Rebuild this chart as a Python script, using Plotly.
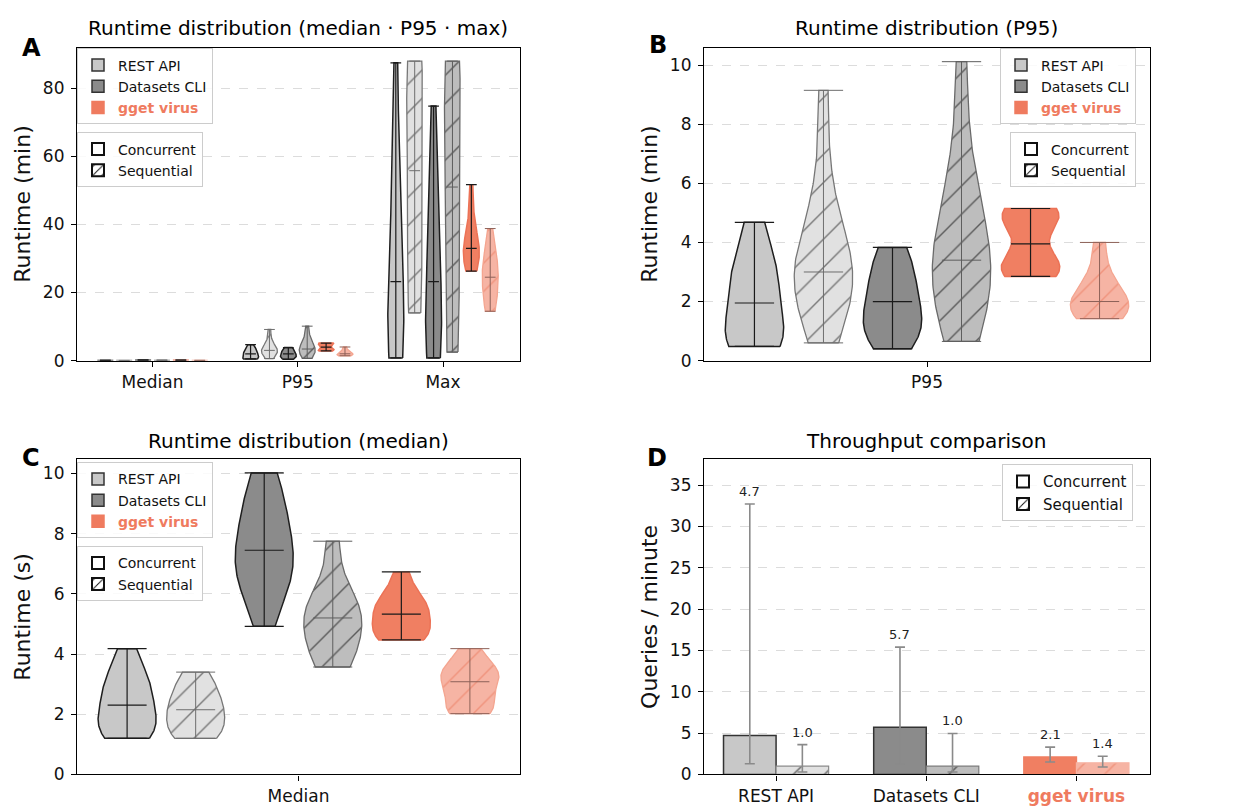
import numpy as np
import plotly.graph_objects as go

# ---------------- data ----------------
group_names = ["REST API", "Datasets CLI", "gget virus"]
mode_names = ["Concurrent", "Sequential"]
metric_labels = ["Median", "P95", "Max"]

# per-query median runtime (seconds)
med_rest_conc = [1.2, 1.35, 1.5, 1.7, 1.9, 2.3, 2.6, 2.9, 3.1, 3.5, 4.18]
med_rest_seq = [1.2, 1.3, 1.45, 1.7, 1.9, 2.15, 2.3, 2.5, 2.8, 3.1, 3.4]
med_cli_conc = [4.92, 6.0, 6.4, 6.7, 7.0, 7.45, 7.8, 8.3, 8.8, 9.4, 10.02]
med_cli_seq = [3.57, 3.9, 4.3, 4.8, 5.2, 5.4, 5.6, 6.1, 7.75]
med_gget_conc = [4.47, 4.55, 4.65, 4.8, 5.0, 5.33, 5.5, 5.6, 5.75, 6.1, 6.73]
med_gget_seq = [2.02, 2.15, 2.25, 2.35, 2.9, 3.08, 3.25, 3.35, 3.45, 3.7, 4.18]

# per-query P95 runtime (minutes)
p95_rest_conc = [0.48, 0.55, 0.7, 0.9, 1.2, 1.95, 2.5, 2.8, 3.1, 3.8, 4.68]
p95_rest_seq = [0.6, 1.5, 2.1, 2.5, 2.8, 3.0, 3.3, 3.8, 4.5, 6.2, 9.15]
p95_cli_conc = [0.4, 0.8, 1.0, 1.2, 1.4, 2.0, 2.2, 2.5, 3.0, 3.5, 3.83]
p95_cli_seq = [0.65, 1.4, 2.0, 2.6, 3.0, 3.4, 3.9, 4.6, 5.5, 7.0, 10.12]
p95_gget_conc = [2.85, 2.95, 3.05, 3.15, 3.2, 3.3, 3.45, 4.45, 4.7, 4.85, 4.95, 5.05, 5.1, 5.15]
p95_gget_seq = [1.42, 1.55, 1.7, 1.8, 2.0, 2.2, 2.5, 3.0, 4.0]

# per-query max runtime (minutes)
max_rest_conc = [0.8, 2, 4, 7, 12, 23.2, 28, 35, 48, 65, 87.5]
max_rest_seq = [14, 15, 20, 32, 45, 55.8, 64, 78, 86, 88, 88]
max_cli_conc = [0.8, 2, 5, 8, 12, 23.2, 28, 35, 45, 60, 74.8]
max_cli_seq = [2.5, 5, 12, 28, 42, 51, 62, 76, 86, 88, 88]
max_gget_conc = [26.3, 27.5, 29, 30.5, 31.5, 33, 34.5, 36, 38, 44, 51.7]
max_gget_seq = [14.5, 16, 18, 21, 23, 24.5, 27, 28.5, 30, 33, 38.8]

# throughput (queries / minute)
thr_conc = [4.7, 5.7, 2.1]
thr_seq = [1.0, 1.0, 1.4]
thr_conc_lo = [1.3, 1.25, 1.5]
thr_conc_hi = [32.7, 15.4, 3.3]
thr_seq_lo = [0.3, 0.3, 0.9]
thr_seq_hi = [3.6, 4.95, 2.2]

# ---------------- styles ----------------
FONT = "DejaVu Sans"
ORANGE = "#ef7b5f"
fills = ["#c8c8c8", "#e1e1e1", "#8b8b8b", "#bdbdbd", "#f07f62", "#f6b4a4"]
edges = ["#1e1e1e", "#777777", "#1e1e1e", "#6a6a6a", "#ec7256", "#f4a590"]
statc = ["#1a1a1a", "#6e6e6e", "#1a1a1a", "#5e5e5e", "#1a1a1a", "#8d6158"]
hatchc = [None, "#777777", None, "#5a5a5a", None, "#f0937c"]

W = 1236
H = 811


def px_x(p):
    return p / W


def px_y(p):
    return 1 - p / H


med_sets = [med_rest_conc, med_rest_seq, med_cli_conc, med_cli_seq, med_gget_conc, med_gget_seq]
p95_sets = [p95_rest_conc, p95_rest_seq, p95_cli_conc, p95_cli_seq, p95_gget_conc, p95_gget_seq]
max_sets = [max_rest_conc, max_rest_seq, max_cli_conc, max_cli_seq, max_gget_conc, max_gget_seq]

offsets = (np.arange(6) - 2.5) * 0.13
VW = 0.11
CAP = 0.037

fig = go.Figure()


def add_violin(data, pos, k, xa, ya):
    d = np.asarray(data, float)
    n = len(d)
    s = d.std(ddof=1) * n ** (-0.2)
    ys = np.linspace(d.min(), d.max(), 100)
    dens = np.exp(-0.5 * ((ys[:, None] - d[None, :]) / s) ** 2).sum(1)
    half = 0.5 * VW * dens / dens.max()
    x = np.concatenate([pos + half, (pos - half)[::-1], [pos + half[0]]])
    y = np.concatenate([ys, ys[::-1], [ys[0]]])
    kw = dict(x=x, y=y, mode="lines", fill="toself", fillcolor=fills[k],
              line=dict(color=edges[k], width=1.5 if k % 2 == 0 else 1.3),
              xaxis=xa, yaxis=ya, showlegend=False, hoverinfo="skip")
    if hatchc[k]:
        kw["fillpattern"] = dict(shape="/", bgcolor=fills[k], fgcolor=hatchc[k],
                                 size=20, solidity=0.07, fillmode="replace")
    fig.add_trace(go.Scatter(**kw))
    lo, hi, md = d.min(), d.max(), np.median(d)
    cap = CAP
    lx = [pos, pos, None, pos - cap, pos + cap, None, pos - cap, pos + cap, None, pos - cap, pos + cap]
    ly = [lo, hi, None, lo, lo, None, hi, hi, None, md, md]
    fig.add_trace(go.Scatter(x=lx, y=ly, mode="lines",
                             line=dict(color=statc[k], width=1.2 if k % 2 == 0 else 1.0),
                             xaxis=xa, yaxis=ya, showlegend=False, hoverinfo="skip"))


# Panel A: all three metrics (minutes)
for m, sets in enumerate([med_sets, p95_sets, max_sets]):
    for k in range(6):
        vals = np.asarray(sets[k], float)
        if m == 0:
            vals = vals / 60.0
        add_violin(vals, m + offsets[k], k, "x", "y")

# Panel B: P95
for k in range(6):
    add_violin(p95_sets[k], offsets[k], k, "x2", "y2")

# Panel C: median (s)
for k in range(6):
    add_violin(med_sets[k], offsets[k], k, "x3", "y3")

# Panel D: bars
BW = 0.35
conc_fill = [fills[0], fills[2], fills[4]]
conc_edge = ["#333333", "#333333", "#f07f62"]
seq_fill = [fills[1], fills[3], fills[5]]
seq_edge = ["#8a8a8a", "#7a7a7a", "#f6b4a4"]
seq_hatch = ["#666666", "#555555", "#f0937c"]

for i in range(3):
    fig.add_trace(go.Bar(x=[i], y=[thr_conc[i]], width=BW, offset=-BW,
                         marker=dict(color=conc_fill[i], line=dict(color=conc_edge[i], width=1.5)),
                         xaxis="x4", yaxis="y4", showlegend=False, hoverinfo="skip"))
    fig.add_trace(go.Bar(x=[i], y=[thr_seq[i]], width=BW, offset=0,
                         marker=dict(color=seq_fill[i], line=dict(color=seq_edge[i], width=1.2),
                                     pattern=dict(shape="/", bgcolor=seq_fill[i], fgcolor=seq_hatch[i],
                                                  size=22, solidity=0.07, fillmode="replace")),
                         xaxis="x4", yaxis="y4", showlegend=False, hoverinfo="skip"))

cats = np.arange(3)
for vals, lo, hi, sh in [(thr_conc, thr_conc_lo, thr_conc_hi, -BW / 2),
                         (thr_seq, thr_seq_lo, thr_seq_hi, BW / 2)]:
    v = np.asarray(vals, float)
    lo = np.asarray(lo, float)
    hi = np.asarray(hi, float)
    xs = cats + sh
    fig.add_trace(go.Scatter(x=xs, y=v, mode="markers",
                             marker=dict(size=1, color="rgba(0,0,0,0)"),
                             error_y=dict(type="data", symmetric=False, array=hi - v,
                                          arrayminus=v - lo, color="#8a8a8a",
                                          thickness=1.6, width=5),
                             xaxis="x4", yaxis="y4", showlegend=False, hoverinfo="skip"))
    for xi, yi, vi in zip(xs, hi, v):
        fig.add_annotation(x=xi, y=yi, xref="x4", yref="y4", text=f"{vi:.1f}",
                           showarrow=False, xanchor="center", yanchor="bottom", yshift=3,
                           font=dict(family=FONT, size=13, color="#222222"))

# ---------------- legends (dummy entries) ----------------
gget_label = "<b><span style='color:%s'>gget virus</span></b>" % ORANGE
grp_entries = [("REST API", fills[0], "#333333"),
               ("Datasets CLI", fills[2], "#333333"),
               (gget_label, ORANGE, ORANGE)]


def add_group_legend(lg, xa, ya):
    for name, col, ec in grp_entries:
        fig.add_trace(go.Bar(x=[None], y=[None], name=name,
                             marker=dict(color=col, line=dict(color=ec, width=1.5)),
                             legend=lg, xaxis=xa, yaxis=ya, showlegend=True, hoverinfo="skip"))


def add_mode_legend(lg, xa, ya):
    fig.add_trace(go.Bar(x=[None], y=[None], name="Concurrent",
                         marker=dict(color="white", line=dict(color="#111111", width=2)),
                         legend=lg, xaxis=xa, yaxis=ya, showlegend=True, hoverinfo="skip"))
    fig.add_trace(go.Bar(x=[None], y=[None], name="Sequential",
                         marker=dict(color="white", line=dict(color="#111111", width=2),
                                     pattern=dict(shape="/", fgcolor="#111111", bgcolor="white",
                                                  size=8, solidity=0.15, fillmode="replace")),
                         legend=lg, xaxis=xa, yaxis=ya, showlegend=True, hoverinfo="skip"))


add_group_legend("legend", "x", "y")
add_mode_legend("legend2", "x", "y")
add_group_legend("legend3", "x2", "y2")
add_mode_legend("legend4", "x2", "y2")
add_group_legend("legend5", "x3", "y3")
add_mode_legend("legend6", "x3", "y3")
add_mode_legend("legend7", "x4", "y4")


def legend_cfg(x, y, xanchor, size=14):
    return dict(x=x, y=y, xanchor=xanchor, yanchor="top", xref="paper", yref="paper",
                bgcolor="rgba(255,255,255,0.85)", bordercolor="#cccccc", borderwidth=1,
                font=dict(family=FONT, size=size, color="#111111"),
                itemclick=False, itemdoubleclick=False, tracegroupgap=0)


# ---------------- axes ----------------
axis_common = dict(showline=True, linecolor="black", linewidth=1.2, mirror=True,
                   ticks="outside", ticklen=5, tickwidth=1.2, tickcolor="black",
                   tickfont=dict(family=FONT, size=17, color="#111111"), zeroline=False)
xdomA = [px_x(69), px_x(512)]
xdomB = [px_x(696), px_x(1142)]
ydomTop = [px_y(357), px_y(40)]
ydomBot = [px_y(776), px_y(457)]

title_font = dict(family=FONT, size=22, color="#111111")
ygrid = dict(showgrid=True, gridcolor="#dcdcdc", griddash="dash", gridwidth=0.8, ticklabelstandoff=3)
xextra = dict(showgrid=False, ticklabelstandoff=1)

fig.update_layout(
    width=W, height=H, margin=dict(l=0, r=0, t=0, b=0),
    paper_bgcolor="white", plot_bgcolor="white", barmode="overlay",
    font=dict(family=FONT, color="#111111"),
    xaxis=dict(domain=xdomA, anchor="y", range=[-0.52, 2.53], tickvals=[0, 1, 2],
               ticktext=metric_labels, **xextra, **axis_common),
    yaxis=dict(domain=ydomTop, anchor="x", range=[0, 92], tickvals=[0, 20, 40, 60, 80],
               title=dict(text="Runtime (min)", font=title_font, standoff=6), **ygrid, **axis_common),
    xaxis2=dict(domain=xdomB, anchor="y2", range=[-0.42, 0.42], tickvals=[0],
                ticktext=["P95"], **xextra, **axis_common),
    yaxis2=dict(domain=ydomTop, anchor="x2", range=[0, 10.6], tickvals=[0, 2, 4, 6, 8, 10],
                title=dict(text="Runtime (min)", font=title_font, standoff=6), **ygrid, **axis_common),
    xaxis3=dict(domain=xdomA, anchor="y3", range=[-0.42, 0.42], tickvals=[0],
                ticktext=["Median"], **xextra, **axis_common),
    yaxis3=dict(domain=ydomBot, anchor="x3", range=[0, 10.47], tickvals=[0, 2, 4, 6, 8, 10],
                title=dict(text="Runtime (s)", font=title_font, standoff=6), **ygrid, **axis_common),
    xaxis4=dict(domain=xdomB, anchor="y4", range=[-0.48, 2.49], tickvals=[0, 1, 2],
                ticktext=["REST API", "Datasets CLI", gget_label], **xextra, **axis_common),
    yaxis4=dict(domain=ydomBot, anchor="x4", range=[0, 38.1], tickvals=[0, 5, 10, 15, 20, 25, 30, 35],
                title=dict(text="Queries / minute", font=title_font, standoff=6), **ygrid, **axis_common),
    legend=legend_cfg(px_x(69), px_y(41), "left"),
    legend2=legend_cfg(px_x(69), px_y(126), "left"),
    legend3=legend_cfg(px_x(1128), px_y(41), "right"),
    legend4=legend_cfg(px_x(1128), px_y(126), "right"),
    legend5=legend_cfg(px_x(69), px_y(460), "left"),
    legend6=legend_cfg(px_x(69), px_y(545), "left"),
    legend7=legend_cfg(px_x(1125), px_y(462), "right", size=15),
)

annots = [
    ("Runtime distribution (median · P95 · max)", 290, 20, 20, False),
    ("Runtime distribution (P95)", 918, 20, 20, False),
    ("Runtime distribution (median)", 290, 438, 20, False),
    ("Throughput comparison", 918, 438, 20, False),
    ("A", 23, 40, 24, True),
    ("B", 650, 37, 24, True),
    ("C", 23, 456, 24, True),
    ("D", 649, 456, 24, True),
]
for txt, ax_, ay_, sz, bold in annots:
    fig.add_annotation(text=("<b>%s</b>" % txt) if bold else txt, x=px_x(ax_), y=px_y(ay_),
                       xref="paper", yref="paper", xanchor="center", yanchor="middle",
                       showarrow=False, font=dict(family=FONT, size=sz, color="black"))

fig.write_html("out.html")
